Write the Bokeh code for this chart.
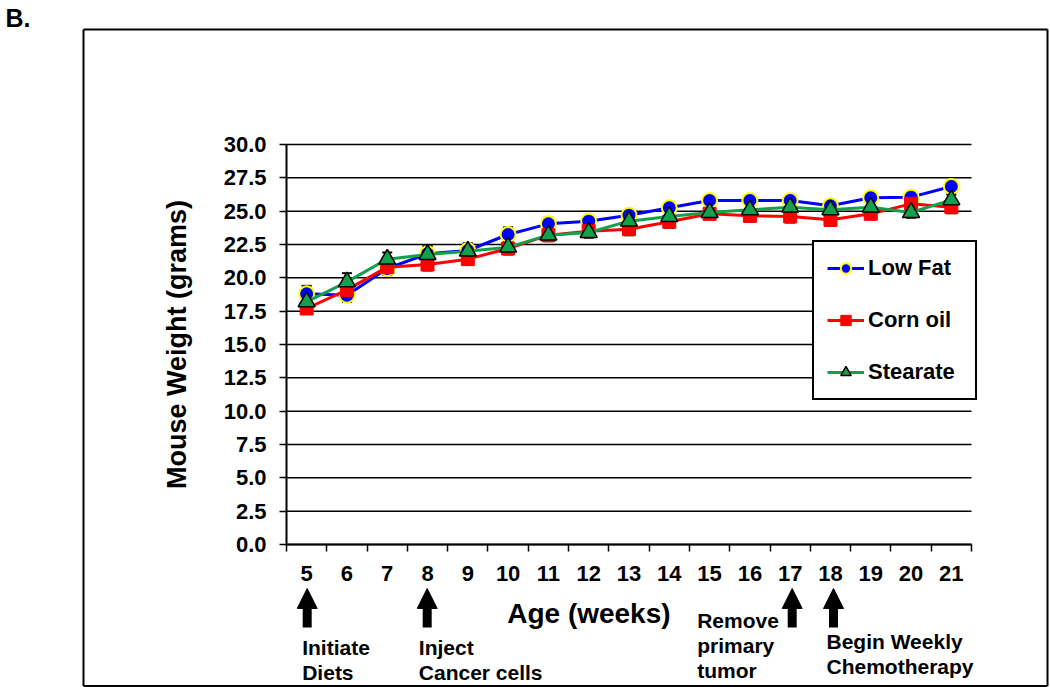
from bokeh.plotting import figure
from bokeh.models import (FixedTicker, NumeralTickFormatter, Legend, LegendItem, Label,
                          NormalHead, TeeHead, Whisker, ColumnDataSource, Range1d)
from bokeh.embed import file_html
from bokeh.resources import INLINE

# ---------------- data ----------------
weeks = [5, 6, 7, 8, 9, 10, 11, 12, 13, 14, 15, 16, 17, 18, 19, 20, 21]
low_fat = [18.8, 18.7, 20.7, 21.8, 22.05, 23.25, 24.05, 24.25, 24.7, 25.25, 25.8, 25.8, 25.8, 25.4, 26.0, 26.05, 26.85]
corn_oil = [17.7, 19.1, 20.8, 21.0, 21.4, 22.2, 23.2, 23.5, 23.65, 24.2, 24.8, 24.65, 24.6, 24.35, 24.8, 25.55, 25.3]
stearate = [18.2, 19.7, 21.4, 21.75, 22.0, 22.3, 23.2, 23.4, 24.25, 24.6, 24.9, 25.1, 25.3, 25.1, 25.3, 24.9, 25.85]
low_fat_err = [0.6, 0.5, 0.5, 0.6, 0.55, 0.55, 0.45, 0.4, 0.35, 0.4, 0.35, 0.35, 0.4, 0.35, 0.35, 0.4, 0.4]
corn_oil_err = [0.4, 0.45, 0.4, 0.45, 0.4, 0.45, 0.4, 0.4, 0.45, 0.45, 0.4, 0.45, 0.45, 0.45, 0.4, 0.4, 0.45]
stearate_err = [0.5, 0.65, 0.5, 0.55, 0.5, 0.5, 0.45, 0.4, 0.4, 0.45, 0.4, 0.4, 0.45, 0.4, 0.4, 0.4, 0.4]
y_ticks = [0.0, 2.5, 5.0, 7.5, 10.0, 12.5, 15.0, 17.5, 20.0, 22.5, 25.0, 27.5, 30.0]
series_names = ["Low Fat", "Corn oil", "Stearate"]
x_title = "Age (weeks)"
y_title = "Mouse Weight (grams)"
events = [("Initiate", "Diets"), ("Inject", "Cancer cells"),
          ("Remove", "primary", "tumor"), ("Begin Weekly", "Chemotherapy")]

# ---------------- layout (canvas pixels) ----------------
W, H = 1050, 687
AL, AR, AT, AB = 286, 971, 144, 544          # plotting area (axes box)
X0, X1, Y0, Y1 = 4.5, 21.5, 0.0, 30.0
sx = (AR - AL) / (X1 - X0)
sy = (AB - AT) / (Y1 - Y0)


def X(cx):
    return X0 + (cx - AL) / sx


def Y(cy):
    return (AB - cy) / sy


FONT = "Liberation Sans"

p = figure(width=W, height=H, x_range=Range1d(X(0), X(W)), y_range=Range1d(Y(H), Y(0)),
           output_backend="svg", toolbar_location=None,
           min_border_left=0, min_border_right=0, min_border_top=0, min_border_bottom=0)
p.outline_line_color = None
p.background_fill_color = "white"
p.border_fill_color = "white"
p.xgrid.visible = False
p.ygrid.visible = False

# axes, pinned at the corner of the plotting area
p.xaxis.fixed_location = Y0
p.xaxis.bounds = (X0, X1)
p.yaxis.fixed_location = X0
p.yaxis.bounds = (Y0, Y1)
p.xaxis.ticker = FixedTicker(ticks=weeks, minor_ticks=[w - 0.5 for w in weeks] + [weeks[-1] + 0.5])
p.xaxis.major_tick_out = 0
p.xaxis.major_tick_in = 0
p.xaxis.minor_tick_out = 7
p.xaxis.minor_tick_in = 0
p.xaxis.minor_tick_line_color = "black"
p.xaxis.minor_tick_line_width = 1.5
p.xaxis.major_label_standoff = 14
p.yaxis.ticker = FixedTicker(ticks=y_ticks)
p.yaxis.formatter = NumeralTickFormatter(format="0.0")
p.yaxis.major_tick_out = 7
p.yaxis.major_tick_in = 0
p.yaxis.minor_tick_line_color = None
p.yaxis.major_label_standoff = 13
for ax in (p.xaxis, p.yaxis):
    ax.axis_line_color = "black"
    ax.axis_line_width = 2
    ax.major_tick_line_color = "black"
    ax.major_tick_line_width = 1.5
    ax.major_label_text_font = FONT
    ax.major_label_text_font_style = "bold"
    ax.major_label_text_font_size = "22px"
    ax.major_label_text_color = "black"
p.yaxis.axis_label = y_title
p.yaxis.axis_label_text_font = FONT
p.yaxis.axis_label_text_font_style = "bold"
p.yaxis.axis_label_text_font_size = "27px"
p.yaxis.axis_label_text_color = "black"
p.yaxis.axis_label_standoff = 29

# horizontal grid lines across the plotting area
p.segment(x0=[X0] * len(y_ticks), x1=[X1] * len(y_ticks), y0=y_ticks, y1=y_ticks,
          line_color="black", line_width=1.5, level="underlay")

# series
specs = [
    (low_fat, low_fat_err, "#0000FF", "circle", 15, "#FFFF00", 2),
    (corn_oil, corn_oil_err, "#FF0000", "square", 13, "#FF0000", 1),
    (stearate, stearate_err, "#12A14A", "triangle", 17, "black", 1.5),
]
items = []
for name, (vals, err, col, mk, sz, lc, lw) in zip(series_names, specs):
    src = ColumnDataSource(dict(x=weeks, y=vals,
                                lo=[v - e for v, e in zip(vals, err)],
                                hi=[v + e for v, e in zip(vals, err)]))
    wk = Whisker(base="x", lower="lo", upper="hi", source=src, line_color="black", line_width=1.5,
                 upper_head=TeeHead(size=10, line_width=2, line_color="black"),
                 lower_head=TeeHead(size=10, line_width=2, line_color="black"))
    p.add_layout(wk)
    lr = p.line("x", "y", source=src, line_color=col, line_width=3)
    sr = p.scatter("x", "y", source=src, marker=mk, size=sz, fill_color=col, line_color=lc, line_width=lw)
    items.append(LegendItem(label=name, renderers=[lr, sr]))

legend = Legend(items=items, location=(812, H - 400), orientation="vertical",
                label_text_font=FONT, label_text_font_style="bold", label_text_font_size="22px",
                label_text_color="black", glyph_width=37, glyph_height=26, label_height=26,
                label_width=94, spacing=26, padding=13, margin=0, label_standoff=4,
                border_line_color="black", border_line_width=2, border_line_alpha=1.0,
                background_fill_color="white", background_fill_alpha=1.0)
p.add_layout(legend)

# x axis title
p.add_layout(Label(x=X(506.7), y=Y(613), text=x_title, text_font=FONT, text_font_style="bold",
                   text_font_size="28px", text_align="left", text_baseline="middle", text_color="black"))

# event arrows (shaft + head)
arrow_cx = [306.7, 426.7, 791.7, 833]
shaft = ColumnDataSource(dict(x=[X(c) for c in arrow_cx], lo=[Y(627)] * 4, hi=[Y(600)] * 4))
p.add_layout(Whisker(base="x", lower="lo", upper="hi", source=shaft, line_color="black",
                     line_width=9, line_cap="butt", lower_head=None, upper_head=None))
heads = ColumnDataSource(dict(x=[X(c) for c in arrow_cx], lo=[Y(606)] * 4, hi=[Y(588)] * 4))
p.add_layout(Whisker(base="x", lower="lo", upper="hi", source=heads, line_alpha=0,
                     lower_head=None,
                     upper_head=NormalHead(size=20, fill_color="black", line_color="black", line_width=1)))

text_pos = [(301.7, 646.7), (418.3, 646.7), (696.7, 620), (826, 640.5)]
for lines, (tx, ty) in zip(events, text_pos):
    for i, t in enumerate(lines):
        p.add_layout(Label(x=X(tx), y=Y(ty + 25 * i), text=t, text_font=FONT, text_font_style="bold",
                           text_font_size="21px", text_align="left", text_baseline="middle",
                           text_color="black"))

# panel letter
p.add_layout(Label(x=X(5), y=Y(17), text="B.", text_font=FONT, text_font_style="bold",
                   text_font_size="25px", text_align="left", text_baseline="middle", text_color="black"))

# outer frame
bx0, by0, bx1, by1 = 83, 29, 1047, 685.5
hsrc = ColumnDataSource(dict(b=[Y(by0), Y(by1)], lo=[X(bx0)] * 2, hi=[X(bx1)] * 2))
vsrc = ColumnDataSource(dict(b=[X(bx0), X(bx1)], lo=[Y(by1)] * 2, hi=[Y(by0)] * 2))
p.add_layout(Whisker(base="b", lower="lo", upper="hi", source=hsrc, dimension="width",
                     line_color="black", line_width=2, lower_head=None, upper_head=None))
p.add_layout(Whisker(base="b", lower="lo", upper="hi", source=vsrc, dimension="height",
                     line_color="black", line_width=2, lower_head=None, upper_head=None))

open("out.html", "w").write(file_html(p, INLINE))
